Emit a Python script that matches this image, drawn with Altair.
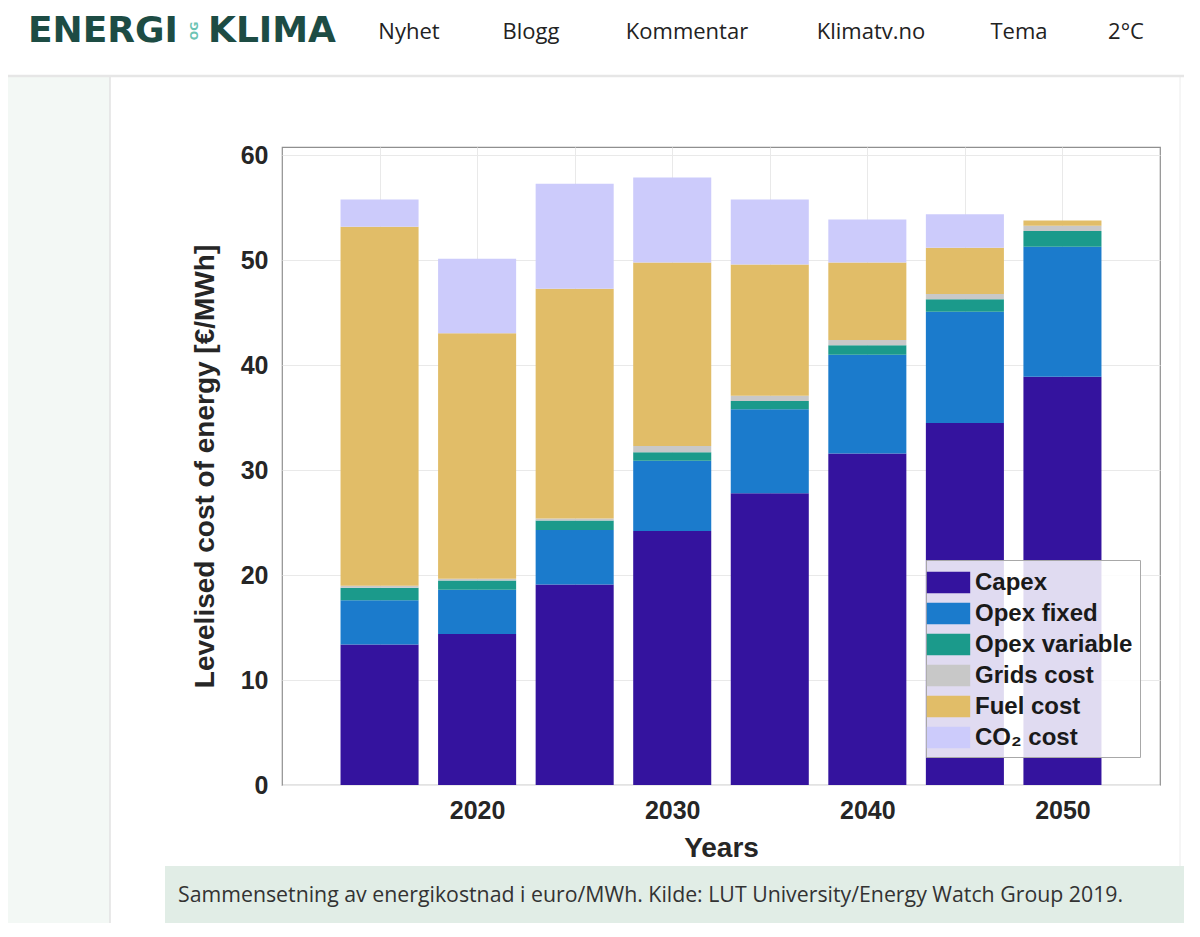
import altair as alt
import pandas as pd

# ---------------- data ----------------
years = [2015, 2020, 2025, 2030, 2035, 2040, 2045, 2050]
capex = [13.4, 14.4, 19.1, 24.2, 27.8, 31.6, 34.5, 38.9]
opex_fixed = [4.2, 4.2, 5.2, 6.7, 8.0, 9.4, 10.6, 12.4]
opex_variable = [1.2, 0.9, 0.9, 0.8, 0.8, 0.9, 1.2, 1.5]
grids_cost = [0.2, 0.15, 0.2, 0.6, 0.5, 0.5, 0.5, 0.5]
fuel_cost = [34.2, 23.4, 21.9, 17.5, 12.5, 7.4, 4.4, 0.5]
co2_cost = [2.6, 7.1, 10.0, 8.1, 6.2, 4.1, 3.2, 0.0]

series_names = ["Capex", "Opex fixed", "Opex variable", "Grids cost", "Fuel cost", "CO\u2082 cost"]
series_colors = ["#34139e", "#1b7bcc", "#1b9a8b", "#c8c8c8", "#e1bd68", "#cccbfb"]

x_tick_values = [2015, 2020, 2025, 2030, 2035, 2040, 2045, 2050]
y_tick_values = [0, 10, 20, 30, 40, 50, 60]

nav_items = ["Nyhet", "Blogg", "Kommentar", "Klimatv.no", "Tema", "2\u00b0C"]
logo_left = "ENERGI"
logo_mid = "OG"
logo_right = "KLIMA"
caption = "Sammensetning av energikostnad i euro/MWh. Kilde: LUT University/Energy Watch Group 2019."

rows = []
for k, (name, vals) in enumerate(zip(series_names,
                                     [capex, opex_fixed, opex_variable, grids_cost, fuel_cost, co2_cost])):
    for yr, v in zip(years, vals):
        rows.append({"year": yr, "cost": name, "value": v, "k": k})
df = pd.DataFrame(rows)

W, H = 878, 638
FONT = "Liberation Sans"
TXT = "#262626"

bars = alt.Chart(df).transform_stack(
    stack="value", groupby=["year"], as_=["y0", "y1"],
    sort=[alt.SortField("k", order="ascending")]
).transform_calculate(
    x0="datum.year - 2", x1="datum.year + 2"
).mark_rect().encode(
    x=alt.X("x0:Q",
            scale=alt.Scale(domain=[2010, 2055], nice=False, zero=False),
            axis=alt.Axis(values=x_tick_values, format="d",
                          labelExpr="datum.value % 10 == 0 ? datum.label : ''",
                          ticks=False, tickSize=0, domain=False,
                          grid=True, gridColor="#e9e9e9", gridWidth=1,
                          labelFont=FONT, labelFontSize=25, labelFontWeight="bold",
                          labelColor=TXT, labelPadding=13,
                          title="Years", titleFont=FONT, titleFontSize=28,
                          titleFontWeight="bold", titleColor=TXT,
                          titleX=W / 2, titleY=63, titleBaseline="middle")),
    x2="x1:Q",
    y=alt.Y("y0:Q",
            scale=alt.Scale(domain=[0, 60.8], nice=False),
            axis=alt.Axis(values=y_tick_values, ticks=False, tickSize=0, domain=False,
                          grid=True, gridColor="#e9e9e9", gridWidth=1,
                          labelFont=FONT, labelFontSize=25, labelFontWeight="bold",
                          labelColor=TXT, labelPadding=14,
                          title="Levelised cost of energy [\u20ac/MWh]",
                          titleFont=FONT, titleFontSize=28, titleFontWeight="bold",
                          titleColor=TXT, titleAngle=270, titleX=-77, titleY=H / 2,
                          titleBaseline="middle", titleAlign="center")),
    y2="y1:Q",
    color=alt.Color("cost:N",
                    scale=alt.Scale(domain=series_names, range=series_colors),
                    legend=alt.Legend(orient="none", legendX=644, legendY=413,
                                      title=None,
                                      symbolType="M-1.4,-0.7H1.4V0.7H-1.4Z",
                                      symbolSize=961, symbolStrokeWidth=0,
                                      symbolOpacity=1,
                                      labelFont=FONT, labelFontSize=24,
                                      labelFontWeight="bold", labelColor="#1a1a1a",
                                      labelOffset=11, rowPadding=3, padding=7,
                                      labelLimit=300,
                                      fillColor="rgba(255,255,255,0.85)",
                                      strokeColor="#a8a8a8")),
)

one = pd.DataFrame({"a": [0]})

# page chrome (header, sidebar, caption box)
sidebar = alt.Chart(one).mark_rect(color="#f3f8f5").encode(
    x=alt.value(-280), x2=alt.value(-172), y=alt.value(-71), y2=alt.value(800))
sidebar_line = alt.Chart(one).mark_rule(color="#e2e2e2", strokeWidth=1.5).encode(
    x=alt.value(-172), y=alt.value(-71), y2=alt.value(800))
right_line = alt.Chart(one).mark_rule(color="#ececec", strokeWidth=1).encode(
    x=alt.value(898), y=alt.value(-71), y2=alt.value(719))
header_line = alt.Chart(one).mark_rule(color="#e6e6e6", strokeWidth=2.5).encode(
    x=alt.value(-280), x2=alt.value(930), y=alt.value(-71))
caption_box = alt.Chart(one).mark_rect(color="#e1ede6").encode(
    x=alt.value(-117), x2=alt.value(930), y=alt.value(719), y2=alt.value(778))
caption_text = alt.Chart(pd.DataFrame({"t": [caption]})).mark_text(
    align="left", baseline="middle", font="Open Sans", fontSize=21.3, color="#333333"
).encode(x=alt.value(-104), y=alt.value(749), text="t:N")

logo1 = alt.Chart(pd.DataFrame({"t": [logo_left]})).mark_text(
    align="left", baseline="middle", font="DejaVu Sans", fontSize=36,
    fontWeight="bold", color="#1d4c44"
).encode(x=alt.value(-254), y=alt.value(-116), text="t:N")
logo2 = alt.Chart(pd.DataFrame({"t": [logo_mid]})).mark_text(
    align="center", baseline="middle", font="DejaVu Sans", fontSize=11,
    fontWeight="bold", color="#6cc3b3", angle=270
).encode(x=alt.value(-87), y=alt.value(-116), text="t:N")
logo3 = alt.Chart(pd.DataFrame({"t": [logo_right]})).mark_text(
    align="left", baseline="middle", font="DejaVu Sans", fontSize=36,
    fontWeight="bold", color="#1d4c44"
).encode(x=alt.value(-74), y=alt.value(-116), text="t:N")

nav_x = [127, 249, 405, 589, 737, 844]
nav_layers = [
    alt.Chart(pd.DataFrame({"t": [item]})).mark_text(
        align="center", baseline="middle", font="Open Sans", fontSize=22, color="#222222"
    ).encode(x=alt.value(xp), y=alt.value(-115), text="t:N")
    for item, xp in zip(nav_items, nav_x)
]

chart = alt.layer(
    sidebar, sidebar_line, right_line, header_line, caption_box, caption_text,
    logo1, logo2, logo3, *nav_layers, bars
).properties(
    width=W, height=H,
    autosize=alt.AutoSizeParams(type="none"),
    padding={"left": 274, "top": 139, "right": 24, "bottom": 138},
    background="white",
).configure_view(stroke="#8f8f8f", strokeWidth=1.2)

chart.save("out.html", embed_options={"renderer": "svg", "actions": False})
